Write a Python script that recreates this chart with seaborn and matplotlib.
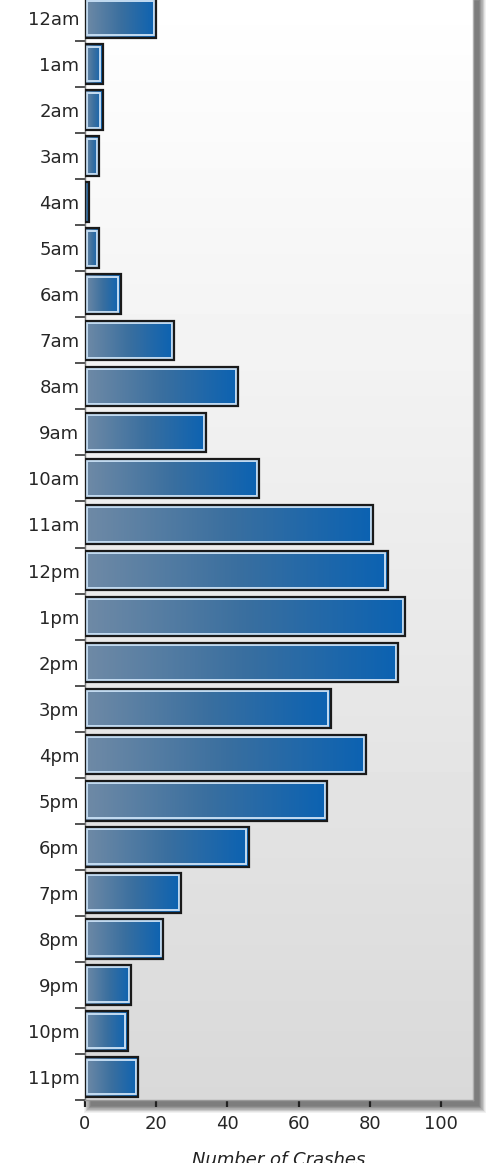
import numpy as np
import pandas as pd
import matplotlib.pyplot as plt
import seaborn as sns
from matplotlib.patches import Rectangle
from matplotlib.colors import LinearSegmentedColormap

hours = ['12am', '1am', '2am', '3am', '4am', '5am', '6am', '7am', '8am', '9am', '10am', '11am',
         '12pm', '1pm', '2pm', '3pm', '4pm', '5pm', '6pm', '7pm', '8pm', '9pm', '10pm', '11pm']
crashes = [20, 5, 5, 4, 1, 4, 10, 25, 43, 34, 49, 81,
           85, 90, 88, 69, 79, 68, 46, 27, 22, 13, 12, 15]
x_ticks = [0, 20, 40, 60, 80, 100]

df = pd.DataFrame({'Hour': hours, 'Crashes': crashes})

sns.set_style('white')
plt.rcParams['font.family'] = ['DejaVu Sans']

W, H = 491, 1163
fig = plt.figure(figsize=(W / 100, H / 100), dpi=100)
fig.patch.set_facecolor('white')

# axes box in pixels (from top-left)
left_px, right_px, top_px, bot_px = 85, 473, -5, 1100
ax = fig.add_axes([left_px / W, 1 - bot_px / H, (right_px - left_px) / W, (bot_px - top_px) / H])

# soft drop shadow behind the plot area
n = 12
for k in range(n):
    grow = (n - 1 - k) * 0.6
    x0 = left_px + 6 - grow
    y0 = bot_px + 6 + grow
    w = (right_px - left_px) + 2 * grow
    h = (bot_px - top_px) + 2 * grow
    fig.patches.append(Rectangle((x0 / W, 1 - y0 / H), w / W, h / H,
                                 transform=fig.transFigure, facecolor='black',
                                 edgecolor='none', alpha=0.055, zorder=-1))

sns.barplot(data=df, x='Crashes', y='Hour', orient='h', color='#1f63a8',
            width=0.86, ax=ax, zorder=3)

# plot area background gradient
bg = np.linspace(1.0, 0.85, 256).reshape(-1, 1)
ax.imshow(bg, extent=[0, 1, 0, 1], transform=ax.transAxes, aspect='auto',
          cmap='gray', vmin=0, vmax=1, zorder=0)

bar_cmap = LinearSegmentedColormap.from_list('bar', ['#6f8aa6', '#3a6f9f', '#0b62b2'])
grad = np.linspace(0, 1, 200).reshape(1, -1)
px_per_x = (right_px - left_px) / 109.0
px_per_y = (bot_px - top_px) / 24.0
for p in ax.patches:
    x0, y0 = p.get_x(), p.get_y()
    w, h = p.get_width(), p.get_height()
    im = ax.imshow(grad, extent=[x0, x0 + w, y0 + h, y0], aspect='auto',
                   cmap=bar_cmap, vmin=0, vmax=1, zorder=2)
    im.set_clip_path(p)
    p.set_facecolor('none')
    p.set_edgecolor('#1a1a1a')
    p.set_linewidth(1.6)
    p.set_zorder(4)
    dx = 2.4 / px_per_x
    dy = 2.4 / px_per_y
    if w > 2 * dx:
        ax.add_patch(Rectangle((x0 + dx, y0 + dy), w - 2 * dx, h - 2 * dy, fill=False,
                               edgecolor='#c4dcf2', linewidth=1.4, zorder=3))

ax.set_xlim(0, 109)
ax.set_ylim(23.5, -0.5)
ax.set_xticks(x_ticks)
ax.set_yticks(range(len(hours)))
ax.set_yticklabels(hours)
ax.set_yticks(np.arange(-0.5, 24, 1), minor=True)

ax.tick_params(axis='y', which='major', length=0, pad=4, labelsize=13, labelcolor='#262626')
ax.tick_params(axis='y', which='minor', left=True, length=7, width=1.3, color='#444444')
ax.tick_params(axis='x', which='major', bottom=True, length=5, width=1.6, color='#222222',
               pad=6, labelsize=13, labelcolor='#262626')

ax.spines['top'].set_visible(False)
ax.spines['left'].set_color('#777777')
ax.spines['right'].set_color('#b0b0b0')
ax.spines['bottom'].set_color('#999999')
for s in ax.spines.values():
    s.set_linewidth(1.0)

ax.set_ylabel('')
ax.set_xlabel('Number of Crashes', fontsize=13, style='italic', color='#222222')
ax.xaxis.set_label_coords(0.5, -0.046)

fig.savefig('out.png', dpi=100)
